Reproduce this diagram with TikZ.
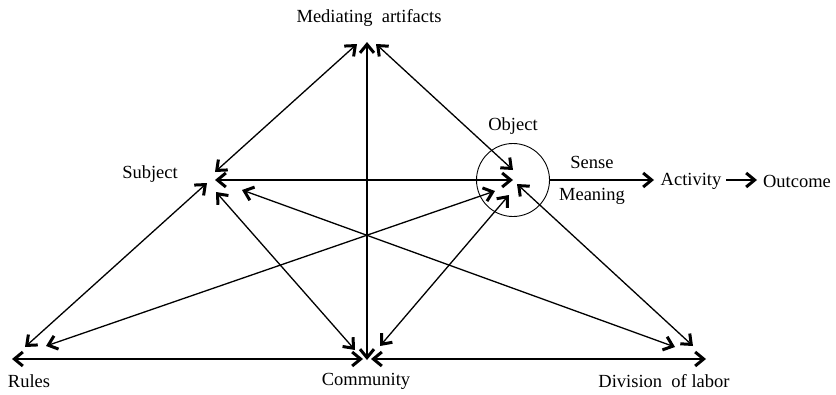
\documentclass[tikz,border=0pt]{standalone}
\usepackage{fontspec}
\setmainfont{Liberation Serif}
\usetikzlibrary{arrows.meta}
\begin{document}
\begin{tikzpicture}[x=1pt,y=-1pt,
  barb/.tip={Straight Barb[length=8.5pt,width=14pt,line width=3pt]},
  link/.style={line width=1.3pt,barb-barb},
  oneway/.style={line width=1.3pt,-barb},
  lbl/.style={font=\fontsize{18.5}{21}\selectfont,inner sep=0pt}]
\useasboundingbox (0,0) rectangle (836,394);

% arrow tips at each corner of the triangle
\coordinate (mL) at (357,44);
\coordinate (mC) at (367,42);
\coordinate (mR) at (376,44);
\coordinate (sU) at (215,172);
\coordinate (sR) at (215,180);
\coordinate (sL) at (207,183);
\coordinate (sD) at (216,192);
\coordinate (sX) at (242,190);
\coordinate (oU) at (513,170);
\coordinate (oL) at (513,180);
\coordinate (oR) at (495,191);
\coordinate (oC) at (509,195);
\coordinate (oX) at (517,184);
\coordinate (rH) at (12,359);
\coordinate (rS) at (25,347);
\coordinate (rO) at (46,346);
\coordinate (cL) at (363,359);
\coordinate (cM) at (367,360);
\coordinate (cR) at (371,359);
\coordinate (cS) at (355,350);
\coordinate (cO) at (380,346);
\coordinate (dH) at (706,359);
\coordinate (dS) at (675,347);
\coordinate (dO) at (693,346);

% object circle
\node[draw,circle,line width=0.9pt,minimum size=73pt,inner sep=0pt] (obj) at (513,180) {};

% connections
\draw[link] (mL) -- (sU);
\draw[link] (mC) -- (cM);
\draw[link] (mR) -- (oU);
\draw[link] (sR) -- (oL);
\draw[link] (sL) -- (rS);
\draw[link] (sD) -- (cS);
\draw[link] (sX) -- (dS);
\draw[link] (oR) -- (rO);
\draw[link] (oC) -- (cO);
\draw[link] (oX) -- (dO);
\draw[link] (rH) -- (cL);
\draw[link] (cR) -- (dH);

% labels
\node[lbl] (med) at (369,18) {Mediating\ \ artifacts};
\node[lbl] (subj) at (150,174) {Subject};
\node[lbl] (objl) at (513,126) {Object};
\node[lbl] (sense) at (592,162) {Sense};
\node[lbl] (mean) at (592,196) {Meaning};
\node[lbl] (act) at (691,181) {Activity};
\node[lbl] (out) at (797,181) {Outcome};
\node[lbl] (rules) at (29,381) {Rules};
\node[lbl] (comm) at (366,381) {Community};
\node[lbl] (div) at (664,381) {Division\ \ of labor};

\coordinate (aT) at (654,180);
\coordinate (aS) at (726,180);
\coordinate (aE) at (757,180);
\draw[oneway] (obj.east) -- (aT);
\draw[oneway] (aS) -- (aE);
\end{tikzpicture}
\end{document}
